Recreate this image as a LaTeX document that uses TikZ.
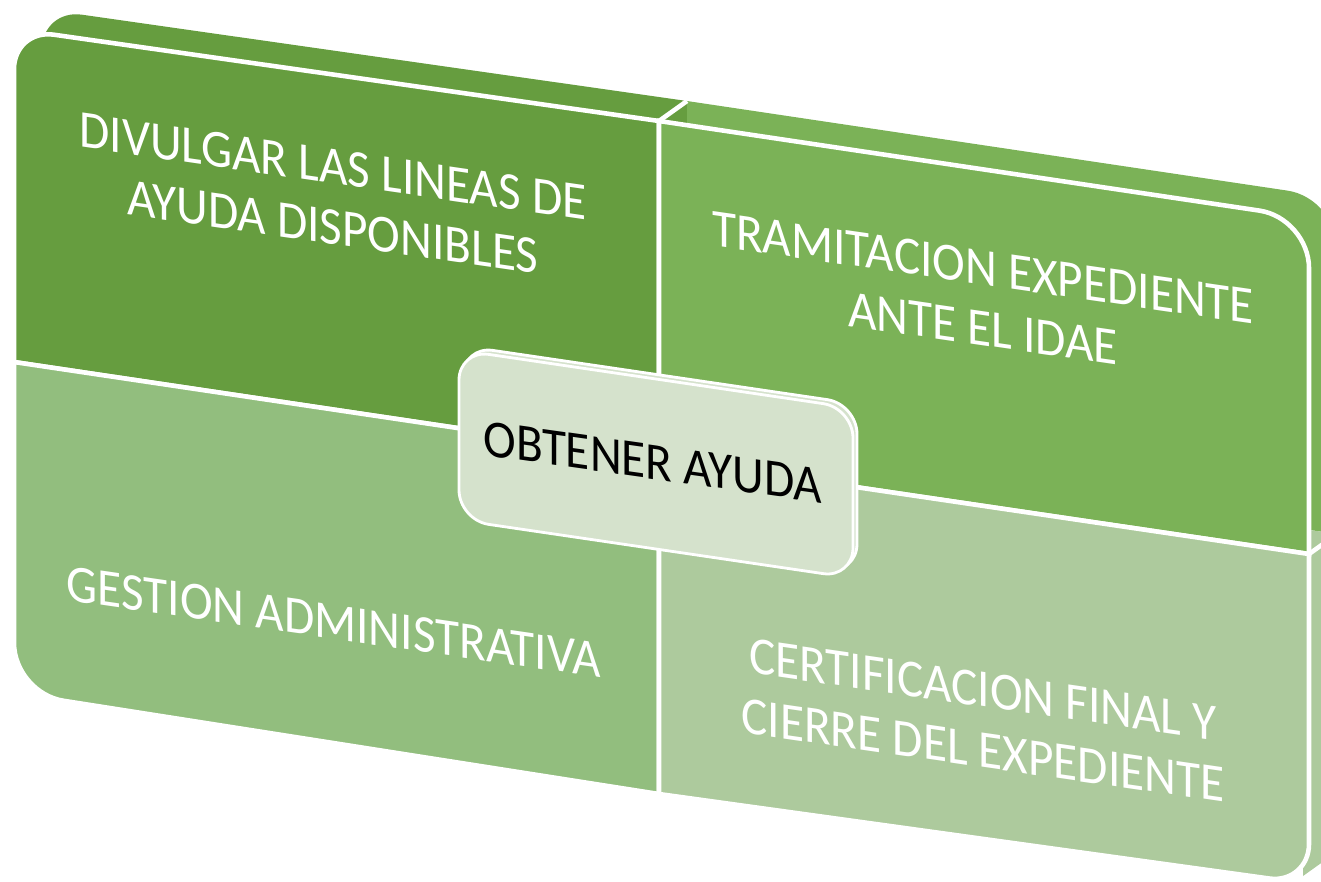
\documentclass[tikz,border=0pt]{standalone}
\usepackage{fontspec}
\setmainfont{Carlito}
\usetikzlibrary{calc}
\definecolor{dkgreen}{HTML}{669D3F}
\definecolor{mdgreen}{HTML}{7BB257}
\definecolor{ltgreen}{HTML}{92BE7E}
\definecolor{plgreen}{HTML}{ADCA9D}
\definecolor{boxgreen}{HTML}{D5E2CC}

% one panel of the matrix, first corner rounded
\newcommand{\panel}[6]{%
  \path[#1] ($(#5)!0.5!(#2)$) [rounded corners=#6] -- (#2) -- ($(#2)!0.5!(#3)$)
    [sharp corners] -- (#3) -- (#4) -- (#5) -- cycle;}

\begin{document}
\begin{tikzpicture}[x=0.01cm,y=-0.01cm,
    front/.style={draw=white,line width=1.3pt},
    edge/.style={white,line width=1.3pt},
    lbl/.style={text=white,align=center,inner sep=0pt,yslant=-0.145,yscale=1.08,
      font=\fontsize{14}{16}\selectfont}]
  \useasboundingbox (0,0) rectangle (1321,881);

  % front corners
  \coordinate (tl) at (14,29);
  \coordinate (tm) at (659,121);
  \coordinate (tr) at (1309,218);
  \coordinate (ml) at (14,362);
  \coordinate (mm) at (659,458);
  \coordinate (mr) at (1309,554);
  \coordinate (bl) at (14,693);
  \coordinate (bm) at (659,794);
  \coordinate (br) at (1309,884);
  % back corners
  \foreach \c in {tl,tm,tr,ml,mm,mr,bl,bm,br}
    \coordinate (\c b) at ($(\c)+(28,-20)$);

  % back face
  \panel{fill=dkgreen}{tlb}{tmb}{mmb}{mlb}{0.4cm}
  \panel{fill=mdgreen}{trb}{mrb}{mmb}{tmb}{0.5cm}
  \panel{fill=ltgreen}{blb}{mlb}{mmb}{bmb}{0.5cm}
  \panel{fill=plgreen}{brb}{bmb}{mmb}{mrb}{0.4cm}
  \fill[plgreen] (mr) -- ($(br)+(-6,-8)$) -- ($(br)+(22,-28)$) -- (mrb) -- cycle;
  \draw[edge] (tm) -- (tmb);
  \draw[edge] (mr) -- (mrb);

  % front face
  \panel{fill=dkgreen,front}{tl}{tm}{mm}{ml}{0.4cm}
  \panel{fill=mdgreen,front}{tr}{mr}{mm}{tm}{0.5cm}
  \panel{fill=ltgreen,front}{bl}{ml}{mm}{bm}{0.5cm}
  \panel{fill=plgreen,front}{br}{bm}{mm}{mr}{0.4cm}

  \node[lbl] (divulgar) at (333,197) {DIVULGAR LAS LINEAS DE\\AYUDA DISPONIBLES};
  \node[lbl] (tramitacion) at (983,298) {TRAMITACION EXPEDIENTE\\ANTE EL IDAE};
  \node[lbl] (gestion) at (334,622) {GESTION ADMINISTRATIVA};
  \node[lbl] (certificacion) at (983,720) {CERTIFICACION FINAL Y\\CIERRE DEL EXPEDIENTE};

  % centre box
  \coordinate (ctl) at (459,350);
  \coordinate (ctr) at (853,408);
  \coordinate (cbr) at (853,578);
  \coordinate (cbl) at (459,520);
  \draw[front,fill=boxgreen,rounded corners=0.3cm,line width=0.8pt]
    ($(ctl)+(4,-4)$) -- ($(ctr)+(4,-4)$) -- ($(cbr)+(4,-4)$) -- ($(cbl)+(4,-4)$) -- cycle;
  \draw[front,fill=boxgreen,rounded corners=0.3cm,line width=0.8pt]
    (ctl) -- (ctr) -- (cbr) -- (cbl) -- cycle;
  \node[lbl,text=black,yslant=0.003] (obtener) at (653,462) {OBTENER AYUDA};
\end{tikzpicture}
\end{document}
